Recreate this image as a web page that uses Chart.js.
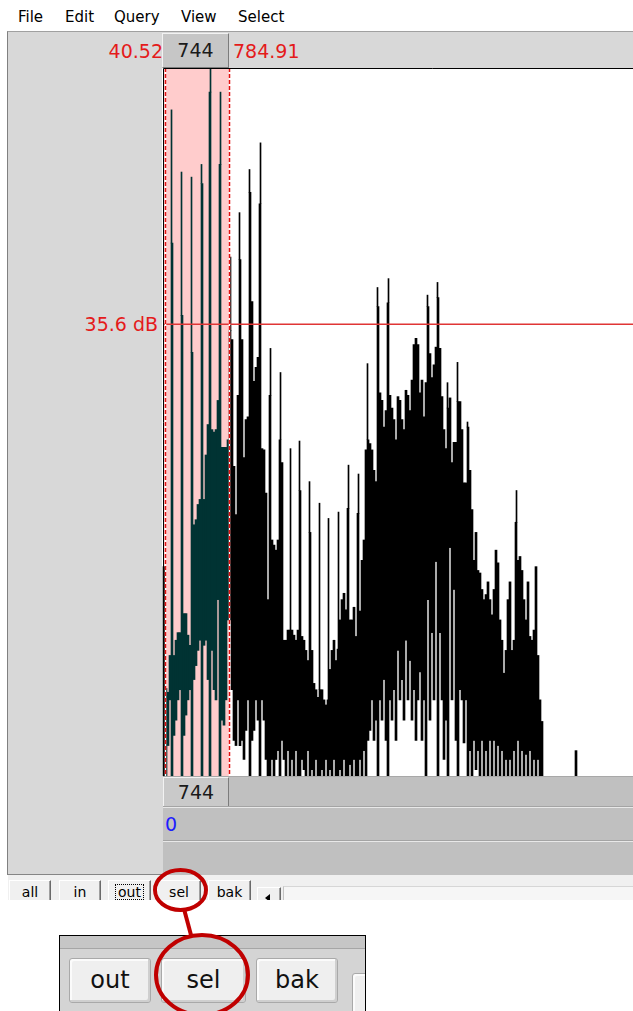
<!DOCTYPE html>
<html>
<head>
<meta charset="utf-8">
<script src="https://cdn.jsdelivr.net/npm/chart.js@4.4.1/dist/chart.umd.min.js"></script>
<style>
  html, body { margin: 0; padding: 0; }
  body { width: 633px; height: 1011px; overflow: hidden; position: relative; background: #fff;
         font-family: "DejaVu Sans", sans-serif; }
  .abs { position: absolute; }
  .menu { top: 8px; font-size: 15px; line-height: 18px; color: #000; }
  #panel { left: 7px; top: 31px; width: 640px; height: 842px; background: #d8d8d8;
           border-top: 1px solid #a0a0a0; border-left: 1px solid #808080; border-bottom: 1px solid #858585; }
  .red { color: #e41b1b; font-size: 19px; line-height: 22px; }
  .raised { box-sizing: border-box; border: 1px solid; border-color: #f2f2f2 #7c7c7c #7c7c7c #f2f2f2;
            text-align: center; color: #1a1a1a; font-size: 19px; }
  #rows { left: 163px; top: 776px; width: 480px; height: 98px; background: #c0c0c0; border-top: 1px solid #a8a8a8; }
  .sep { left: 163px; width: 480px; height: 1px; background: #e8e8e8; }
  .sepd { left: 163px; width: 480px; height: 1px; background: #a4a4a4; }
  #plotWrap { left: 162px; top: 68px; width: 540px; height: 708px; }
  #strip { left: 8px; top: 875px; width: 625px; height: 25px; background: #f0f0f0; overflow: hidden; }
  .btn { position: absolute; top: 5px; height: 26px; box-sizing: border-box; background: #f0f0f0;
         border: 1px solid; border-color: #ffffff #6a6a6a #6a6a6a #ffffff;
         box-shadow: inset -1px -1px 0 #a0a0a0; font-size: 14px; line-height: 22px; text-align: center; color: #000; }
  #cover { left: 0; top: 900px; width: 633px; height: 111px; background: #fff; }
  #inset { left: 59px; top: 935px; width: 307px; height: 90px; box-sizing: border-box; background: #d4d4d4;
           border: 1px solid #000; overflow: hidden; }
  .big { position: absolute; top: 22px; height: 45px; box-sizing: border-box; background: #efefef;
         border: 1px solid #a9a9a9; border-radius: 3px; box-shadow: inset -2px -2px 0 #cfcfcf, inset 2px 2px 0 #fbfbfb;
         font-size: 24px; line-height: 42px; text-align: center; color: #111; }
</style>
</head>
<body>

<div class="abs menu" style="left:18px">File</div>
<div class="abs menu" style="left:65px">Edit</div>
<div class="abs menu" style="left:114px">Query</div>
<div class="abs menu" style="left:181px">View</div>
<div class="abs menu" style="left:238px">Select</div>

<div id="panel" class="abs"></div>

<!-- selection readout above the spectrum -->
<div class="abs red" style="left:0;width:163px;text-align:right;top:40px">40.52</div>
<div class="abs raised" style="left:162px;top:33px;width:67px;height:35px;background:#c6c6c6;line-height:32px">744</div>
<div class="abs red" style="left:233px;top:40px">784.91</div>

<div class="abs red" style="left:0;width:158px;text-align:right;top:313px">35.6 dB</div>

<div id="rows" class="abs"></div>
<div class="abs raised" style="left:163px;top:777px;width:66px;height:30px;background:#c9c9c9;line-height:28px">744</div>
<div class="abs sepd" style="top:806px"></div>
<div class="abs sep" style="top:807px"></div>
<div class="abs" style="left:165px;top:813px;font-size:19px;line-height:22px;color:#1d1dff">0</div>
<div class="abs sepd" style="top:840px"></div>
<div class="abs sep" style="top:841px"></div>

<div id="plotWrap" class="abs"><canvas id="spectrum" width="540" height="708"></canvas></div>

<div id="strip" class="abs">
  <div class="btn" style="left:1px;width:42px">all</div>
  <div class="btn" style="left:51px;width:42px">in</div>
  <div class="btn" style="left:100px;width:43px">
    <span style="display:inline-block;border:1px dotted #000;line-height:14px;padding:0 2px;margin-top:2px">out</span>
  </div>
  <div class="btn" style="left:149px;width:44px">sel</div>
  <div class="btn" style="left:200px;width:43px">bak</div>
  <div class="btn" style="left:249px;top:12px;width:24px"></div>
  <div class="abs" style="left:257px;top:19px;width:0;height:0;border-top:4px solid transparent;border-bottom:4px solid transparent;border-right:5px solid #000"></div>
  <div class="abs" style="left:275px;top:11px;width:360px;height:20px;background:#f6f6f6;border-top:1px solid #d6d6d6;border-left:1px solid #c4c4c4"></div>
</div>

<div id="cover" class="abs"></div>

<div id="inset" class="abs">
  <div class="abs" style="left:0;top:0;width:310px;height:12px;background:#c6c6c6;border-bottom:1px solid #a6a6a6"></div>
  <div class="big" style="left:9px;width:82px">out</div>
  <div class="big" style="left:101px;width:85px">sel</div>
  <div class="big" style="left:196px;width:82px">bak</div>
  <div class="big" style="left:292px;top:37px;width:30px"></div>
</div>

<svg class="abs" style="left:0;top:0" width="633" height="1011">
  <ellipse cx="180.5" cy="890" rx="25.5" ry="20" fill="none" stroke="#c00000" stroke-width="4"/>
  <line x1="184" y1="909" x2="191" y2="935" stroke="#c00000" stroke-width="4"/>
  <ellipse cx="202" cy="975" rx="46" ry="40" fill="none" stroke="#c00000" stroke-width="4"/>
</svg>

<script>
// Spectrum bins: each bin is drawn as a vertical span from its lowest to its highest level.
const binHz = 23.38;
const upperDb = [
  16.5, 6.9, 6.6, 9.5, 42.0, 9.5, 10.7, 11.3, 11.3, 36.3,
  12.8, 12.8, 11.1, 10.3, 33.4, 19.8, 20.2, 21.4, 21.8, 46.7,
  21.8, 25.3, 27.7, 53.9, 27.3, 27.1, 27.3, 29.6, 48.2, 25.9,
  25.9, 25.9, 26.5, 35.1, 34.4, 24.4, 20.6, 30.0, 40.7, 34.4,
  25.1, 28.1, 28.3, 46.0, 37.4, 31.1, 32.2, 33.0, 45.1, 25.8,
  25.7, 22.3, 13.9, 30.0, 18.6, 18.2, 17.8, 18.6, 26.5, 24.7,
  10.7, 10.7, 11.5, 11.5, 11.5, 11.1, 10.7, 11.5, 22.5, 11.0,
  10.7, 9.9, 9.1, 19.2, 9.9, 7.3, 6.8, 6.2, 6.8, 6.8,
  6.0, 5.6, 6.0, 8.4, 9.9, 10.7, 9.1, 10.0, 12.3, 13.9,
  14.4, 13.1, 21.1, 12.3, 12.3, 13.3, 11.0, 20.7, 13.0, 17.0,
  18.6, 25.7, 26.5, 26.2, 25.7, 24.1, 23.2, 37.0, 30.2, 29.6,
  27.5, 28.8, 37.3, 30.0, 29.0, 28.1, 26.5, 29.9, 29.6, 28.1,
  27.3, 30.4, 30.0, 28.8, 31.2, 34.0, 34.5, 34.0, 30.2, 31.2,
  28.3, 31.0, 37.0, 33.3, 31.4, 32.4, 33.8, 37.7, 33.7, 29.9,
  27.3, 25.8, 29.0, 29.8, 24.7, 26.3, 26.3, 29.5, 29.5, 27.3,
  23.1, 23.1, 27.5, 24.1, 21.0, 17.0, 19.2, 16.2, 16.0, 14.7,
  13.9, 14.3, 15.3, 13.9, 12.7, 14.7, 17.8, 16.8, 12.3, 10.7,
  8.1, 9.9, 13.9, 15.3, 9.9, 10.7, 20.0, 17.0, 17.3, 16.2,
  13.9, 12.3, 15.3, 11.0, 10.7, 11.5, 16.5, 9.5, 6.0, 4.3,
  null, null, null, null, null, null, null, null, null, null,
  null, null, null, null, null, null, 2.0
];
const lowerDb = [
  0, 0, 2.4, 6.0, 0, 3.2, 4.4, 6.0, 6.8, 0,
  3.2, 4.8, 6.0, 6.8, 0, 7.6, 8.7, 9.9, 10.7, 0,
  10.3, 10.7, 7.6, 0, 9.9, 6.8, 6.0, 13.9, 0, 4.4,
  4.0, 6.0, 12.3, 12.3, 6.8, 2.8, 2.4, 6.0, 2.4, 2.8,
  1.3, 3.6, 6.0, 0, 2.8, 3.6, 6.0, 4.4, 0, 6.0,
  4.4, 1.3, 0, 0, 1.3, 0, 1.3, 2.0, 0, 2.8,
  1.3, 0, 2.0, 0, 1.3, 0, 2.0, 0, 0, 1.3,
  0.5, 0, 2.0, 0, 0.5, 0, 1.3, 0, 0, 0.5,
  0, 1.3, 0, 0.5, 0, 1.3, 0, 0, 0.5, 0,
  1.3, 0, 0, 0.9, 0, 1.3, 0, 0, 1.3, 0,
  2.0, 0, 2.8, 3.6, 6.0, 2.8, 4.4, 0, 6.0, 4.4,
  7.6, 2.8, 0, 6.0, 4.4, 6.8, 2.8, 9.9, 6.0, 7.6,
  4.4, 10.7, 6.0, 9.1, 4.4, 6.8, 2.8, 6.0, 8.2, 2.8,
  6.0, 0, 13.9, 4.4, 11.3, 6.0, 16.9, 0, 11.3, 6.0,
  1.3, 4.4, 0, 18.0, 6.0, 14.7, 2.8, 0, 6.8, 6.0,
  2.6, 6.0, 0, 2.0, 0, 2.8, 0.5, 2.0, 0, 2.8,
  0, 2.0, 0, 2.8, 0, 2.8, 0, 2.4, 0, 2.0,
  0, 1.3, 0, 1.3, 0, 2.0, 0, 2.8, 0, 2.0,
  0, 1.7, 0, 2.0, 0, 1.3, 0, 1.3, 0, 0,
  null, null, null, null, null, null, null, null, null, null,
  null, null, null, null, null, null, 0
];

// Harmonic peaks: thin tips rising above the bin spans
const peakHz = [111.1, 228.0, 344.9, 461.8, 567.0, 683.9, 800.8, 906.0, 1022.9, 1151.5,
                1268.4, 1385.3, 1502.2, 1607.4, 1724.3, 1841.2, 1946.4, 2063.3, 2180.2, 2297.1,
                2402.3, 2519.2, 2647.8, 3103.7, 3220.6, 3337.5, 3454.4, 3571.3, 4144.1];
const peakTopDb = [52.5, 47.6, 47.2, 48.2, 55.8, 53.9, 40.9, 44.4, 47.8, 49.9,
                   33.7, 31.8, 25.8, 26.4, 23.2, 21.5, 20.3, 20.8, 24.5, 23.8,
                   32.5, 38.5, 39.2, 37.9, 38.9, 31.0, 32.6, 27.9, 22.5];
const peakBaseDb = [42.0, 36.3, 33.4, 46.7, 53.9, 48.2, 35.1, 40.7, 46.0, 45.1,
                    30.0, 26.5, 11.5, 22.5, 19.2, 6.8, 6.0, 10.0, 21.1, 20.7,
                    26.5, 37.0, 37.3, 37.0, 37.7, 29.0, 29.5, 27.5, 20.0];

// Selected frequency range (Hz) and the level cursor (dB)
const selStartHz = 40.52;
const selEndHz = 784.91;
const cursorDb = 35.6;

// Visible window
const freqMaxHz = 6312.6;
const dbMax = 55.8;

const spans = [];
upperDb.forEach((hi, i) => {
  if (hi === null) return;
  spans.push({ x: binHz * (i + 1), y: [lowerDb[i], hi] });
});
const tips = peakHz.map((f, i) => ({ x: f, y: [peakBaseDb[i], peakTopDb[i]] }));

const inSelection = f => f >= selStartHz && f <= selEndHz;
const markColor = c => (c.raw && inSelection(c.raw.x)) ? '#003333' : '#000000';

const spectrumOverlay = {
  id: 'spectrumOverlay',
  beforeDatasetsDraw(chart) {
    const { ctx, chartArea: a, scales: { x } } = chart;
    ctx.save();
    ctx.fillStyle = '#ffffff';
    ctx.fillRect(a.left, a.top, a.width, a.height);
    const x0 = x.getPixelForValue(selStartHz);
    const x1 = x.getPixelForValue(selEndHz);
    ctx.fillStyle = '#ffcccc';
    ctx.fillRect(x0 - 1.5, a.top, x1 - x0 + 1.5, a.height);
    ctx.restore();
  },
  afterDatasetsDraw(chart) {
    const { ctx, chartArea: a, scales: { x, y } } = chart;
    ctx.save();
    // level cursor
    const yc = y.getPixelForValue(cursorDb);
    ctx.strokeStyle = '#e03535';
    ctx.lineWidth = 1.6;
    ctx.beginPath();
    ctx.moveTo(a.left + 1, yc);
    ctx.lineTo(a.right, yc);
    ctx.stroke();
    // selection edges
    [selStartHz, selEndHz].forEach(f => {
      const px = Math.round(x.getPixelForValue(f)) + 0.5;
      ctx.setLineDash([]);
      ctx.strokeStyle = '#ffffff';
      ctx.lineWidth = 1.5;
      ctx.beginPath(); ctx.moveTo(px, a.top); ctx.lineTo(px, a.bottom); ctx.stroke();
      ctx.setLineDash([4, 2]);
      ctx.strokeStyle = '#e01010';
      ctx.beginPath(); ctx.moveTo(px, a.top); ctx.lineTo(px, a.bottom); ctx.stroke();
    });
    // frame
    ctx.setLineDash([]);
    ctx.strokeStyle = '#000000';
    ctx.lineWidth = 1;
    ctx.beginPath();
    ctx.moveTo(a.left + 1.5, a.bottom);
    ctx.lineTo(a.left + 1.5, a.top + 0.5);
    ctx.lineTo(a.right, a.top + 0.5);
    ctx.stroke();
    ctx.restore();
  }
};

new Chart(document.getElementById('spectrum'), {
  type: 'bar',
  data: {
    datasets: [
      { data: spans, barThickness: 2, borderWidth: 0, grouped: false, backgroundColor: markColor },
      { data: tips, barThickness: 1, borderWidth: 0, grouped: false, backgroundColor: markColor }
    ]
  },
  options: {
    responsive: false,
    animation: false,
    devicePixelRatio: 1,
    layout: { padding: 0 },
    plugins: { legend: { display: false }, tooltip: { enabled: false } },
    scales: {
      x: { type: 'linear', min: 0, max: freqMaxHz, offset: false, display: false },
      y: { type: 'linear', min: 0, max: dbMax, display: false }
    }
  },
  plugins: [spectrumOverlay]
});
</script>
</body>
</html>
